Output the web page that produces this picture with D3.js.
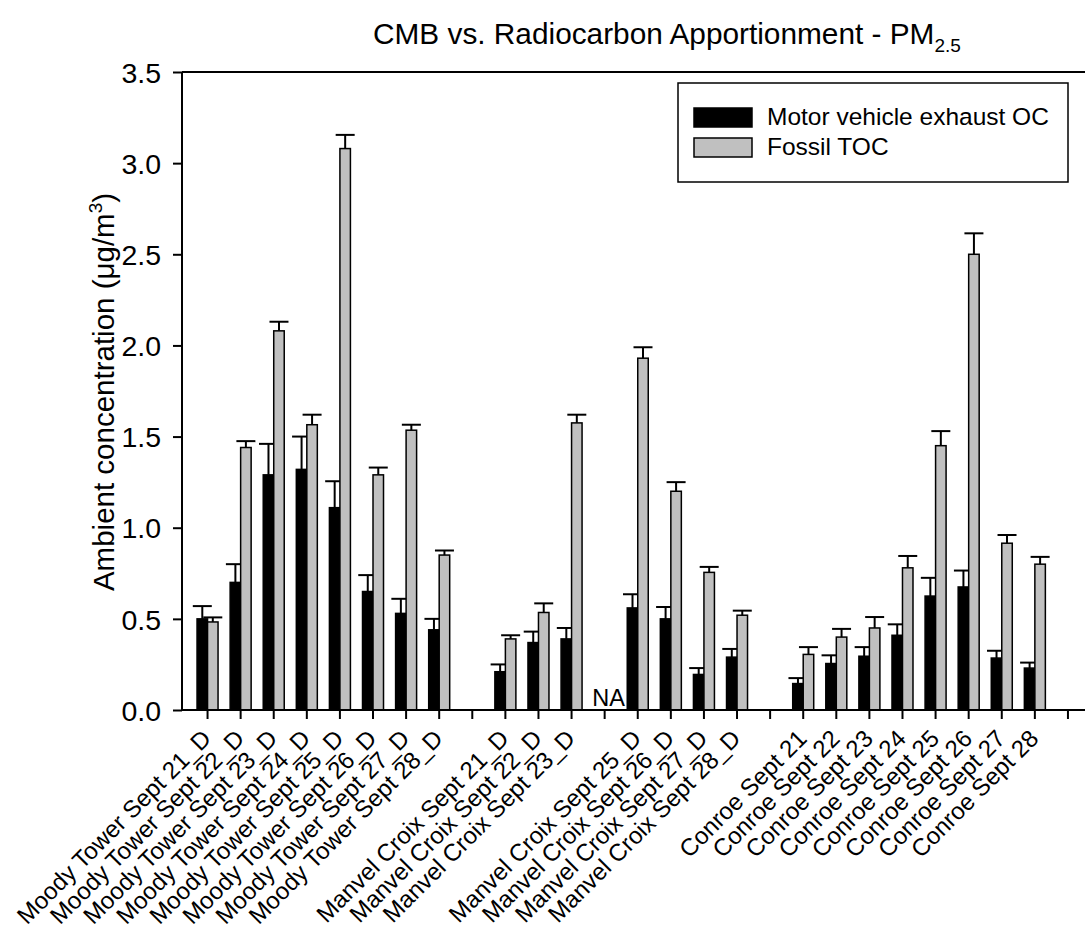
<!DOCTYPE html>
<html>
<head>
<meta charset="utf-8">
<script src="https://cdn.jsdelivr.net/npm/d3@7"></script>
<style>
  html, body { margin: 0; padding: 0; background: #fff; }
  svg { display: block; }
  text { font-family: "Liberation Sans", Arial, sans-serif; fill: #000; }
</style>
</head>
<body>
<svg id="chart" width="1085" height="930"></svg>
<script>
// ---- data ----
const categories = [
  "Moody Tower Sept 21_D","Moody Tower Sept 22_D","Moody Tower Sept 23_D","Moody Tower Sept 24_D",
  "Moody Tower Sept 25_D","Moody Tower Sept 26_D","Moody Tower Sept 27_D","Moody Tower Sept 28_D",
  "",
  "Manvel Croix Sept 21_D","Manvel Croix Sept 22_D","Manvel Croix Sept 23_D","",
  "Manvel Croix Sept 25_D","Manvel Croix Sept 26_D","Manvel Croix Sept 27_D","Manvel Croix Sept 28_D",
  "",
  "Conroe Sept 21","Conroe Sept 22","Conroe Sept 23","Conroe Sept 24",
  "Conroe Sept 25","Conroe Sept 26","Conroe Sept 27","Conroe Sept 28",
  ""
];
const motorVehicle = [0.50,0.70,1.29,1.32,1.11,0.65,0.53,0.44, null,
                      0.21,0.37,0.39,null,0.56,0.50,0.195,0.29, null,
                      0.145,0.255,0.295,0.41,0.625,0.675,0.285,0.23, null];
const motorVehicleErr = [0.07,0.10,0.17,0.18,0.145,0.09,0.08,0.06, null,
                         0.04,0.06,0.06,null,0.075,0.065,0.035,0.045, null,
                         0.03,0.045,0.05,0.06,0.10,0.09,0.04,0.03, null];
const fossilTOC = [0.483,1.44,2.08,1.565,3.08,1.29,1.535,0.85, null,
                   0.39,0.535,1.575,null,1.93,1.20,0.755,0.52, null,
                   0.305,0.40,0.45,0.78,1.45,2.50,0.915,0.80, null];
const fossilTOCErr = [0.025,0.035,0.05,0.055,0.075,0.04,0.03,0.025, null,
                      0.02,0.05,0.045,null,0.06,0.05,0.03,0.025, null,
                      0.04,0.045,0.06,0.065,0.08,0.115,0.045,0.04, null];
const naIndex = [12];
const yTicks = [0, 0.5, 1.0, 1.5, 2.0, 2.5, 3.0, 3.5];
const seriesNames = ["Motor vehicle exhaust OC", "Fossil TOC"];
const seriesColors = ["#000000", "#c0c0c0"];

// ---- layout ----
const svg = d3.select("#chart");
const axisLeftX = 182, axisRightX = 1085;
const y = d3.scaleLinear().domain([0, 3.5]).range([710, 72]);
const x = d3.scaleBand().domain(d3.range(categories.length)).range([191, 1084.5]).padding(0);
const barW = 10.5;
const cx = i => x(i) + x.bandwidth() / 2;

// top frame line
svg.append("line").attr("x1", axisLeftX).attr("x2", axisRightX).attr("y1", y(3.5)).attr("y2", y(3.5))
  .attr("stroke", "#000").attr("stroke-width", 2);

// bars
const rows = categories.map((c, i) => ({i, mv: motorVehicle[i], mvE: motorVehicleErr[i], f: fossilTOC[i], fE: fossilTOCErr[i]}));
const g = svg.append("g");
rows.filter(d => d.mv != null).forEach(d => {
  const xm = cx(d.i) - barW / 2;
  g.append("line").attr("x1", xm).attr("x2", xm).attr("y1", y(d.mv)).attr("y2", y(d.mv + d.mvE)).attr("stroke", "#000").attr("stroke-width", 2);
  g.append("line").attr("x1", xm - 9.5).attr("x2", xm + 9.5).attr("y1", y(d.mv + d.mvE)).attr("y2", y(d.mv + d.mvE)).attr("stroke", "#000").attr("stroke-width", 2);
  const xf = cx(d.i) + barW / 2;
  g.append("line").attr("x1", xf).attr("x2", xf).attr("y1", y(d.f)).attr("y2", y(d.f + d.fE)).attr("stroke", "#000").attr("stroke-width", 2);
  g.append("line").attr("x1", xf - 9.5).attr("x2", xf + 9.5).attr("y1", y(d.f + d.fE)).attr("y2", y(d.f + d.fE)).attr("stroke", "#000").attr("stroke-width", 2);
});
g.selectAll("rect.mv").data(rows.filter(d => d.mv != null)).join("rect")
  .attr("class", "mv")
  .attr("x", d => cx(d.i) - barW).attr("width", barW)
  .attr("y", d => y(d.mv)).attr("height", d => y(0) - y(d.mv))
  .attr("fill", seriesColors[0]).attr("stroke", "#000").attr("stroke-width", 1.5);
g.selectAll("rect.f").data(rows.filter(d => d.f != null)).join("rect")
  .attr("class", "f")
  .attr("x", d => cx(d.i)).attr("width", barW)
  .attr("y", d => y(d.f)).attr("height", d => y(0) - y(d.f))
  .attr("fill", seriesColors[1]).attr("stroke", "#000").attr("stroke-width", 1.5);

// NA label
naIndex.forEach(i => {
  svg.append("text").attr("x", cx(i) + 4).attr("y", y(0) - 4).attr("text-anchor", "middle")
    .attr("font-size", 23.5).text("NA");
});

// y axis
const yAxis = svg.append("g").attr("transform", `translate(${axisLeftX},0)`)
  .call(d3.axisLeft(y).tickValues(yTicks).tickFormat(d3.format(".1f")).tickSize(9).tickPadding(12));
yAxis.select(".domain").attr("stroke-width", 2).attr("d", `M0,${y(3.5)}V${y(0)}`);
yAxis.selectAll(".tick line").attr("stroke-width", 2);
yAxis.selectAll(".tick text").attr("font-size", 28.5).attr("font-family", "Liberation Sans, Arial, sans-serif").attr("dy", "0.36em");

// x axis
const xAxis = svg.append("g").attr("transform", `translate(0,${y(0)})`)
  .call(d3.axisBottom(x).tickSize(9).tickFormat(""));
xAxis.select(".domain").attr("stroke-width", 2).attr("d", `M${axisLeftX},0H${axisRightX}`);
xAxis.selectAll(".tick line").attr("stroke-width", 2);
xAxis.selectAll(".tick").append("text")
  .attr("text-anchor", "end")
  .attr("font-size", 24)
  .attr("font-family", "Liberation Sans, Arial, sans-serif")
  .attr("transform", "translate(5,30) rotate(-45)")
  .text(i => categories[i]);

// y title
const yt = svg.append("text").attr("transform", "translate(114,392) rotate(-90)")
  .attr("text-anchor", "middle").attr("font-size", 29.5);
yt.append("tspan").text("Ambient concentration (\u03BCg/m");
yt.append("tspan").attr("font-size", 19).attr("dy", -12).text("3");
yt.append("tspan").attr("dy", 12).text(")");

// title
const tt = svg.append("text").attr("x", 373).attr("y", 44).attr("font-size", 29.8);
tt.append("tspan").text("CMB vs. Radiocarbon Apportionment - PM");
tt.append("tspan").attr("font-size", 19).attr("dy", 8).text("2.5");

// legend
const lg = svg.append("g");
lg.append("rect").attr("x", 678).attr("y", 83).attr("width", 390).attr("height", 99)
  .attr("fill", "#fff").attr("stroke", "#000").attr("stroke-width", 1.5);
seriesNames.forEach((n, k) => {
  const yy = 108 + k * 30;
  lg.append("rect").attr("x", 694).attr("y", yy).attr("width", 58).attr("height", 19)
    .attr("fill", seriesColors[k]).attr("stroke", "#000").attr("stroke-width", 1.5);
  lg.append("text").attr("x", 767).attr("y", yy + 17).attr("font-size", 24.5).text(n);
});
</script>
</body>
</html>
